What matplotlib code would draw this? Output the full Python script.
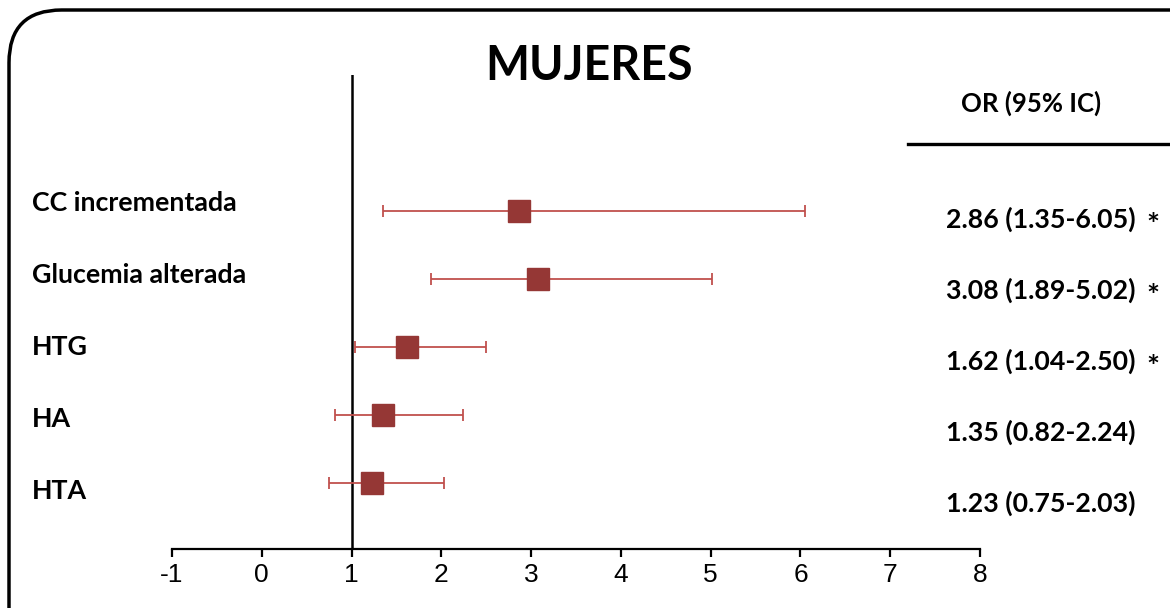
import matplotlib.pyplot as plt
import numpy as np
from matplotlib.patches import FancyBboxPatch
from matplotlib.transforms import blended_transform_factory

# datos
factores = ['CC incrementada', 'Glucemia alterada', 'HTG', 'HA', 'HTA']
odds = [2.86, 3.08, 1.62, 1.35, 1.23]
ic_bajo = [1.35, 1.89, 1.04, 0.82, 0.75]
ic_alto = [6.05, 5.02, 2.50, 2.24, 2.03]
signif = [True, True, True, False, False]
ticks = [-1, 0, 1, 2, 3, 4, 5, 6, 7, 8]

W, H = 1170, 608
fig = plt.figure(figsize=(W / 100, H / 100), dpi=100)
ax = fig.add_axes([172 / W, 59 / H, (980 - 172) / W, (549 - 75) / H])

y = np.arange(len(factores), 0, -1)
odds = np.array(odds)
err = [odds - np.array(ic_bajo), np.array(ic_alto) - odds]

ax.errorbar(odds, y, xerr=err, fmt='none', ecolor='#C0504D', elinewidth=1.3,
            capsize=4.5, capthick=1.3, zorder=2)
ax.plot(odds, y, 's', color='#953735', markersize=16.5, zorder=3)

ax.set_xlim(-1, 8)
ax.set_ylim(0.03, 7)
ax.set_xticks(ticks)
ax.set_xticklabels([str(t) for t in ticks], fontfamily='Liberation Sans', fontsize=19)
ax.set_yticks([])
for s in ['top', 'right', 'left']:
    ax.spines[s].set_visible(False)
ax.spines['bottom'].set_linewidth(1.6)
ax.tick_params(axis='x', direction='out', length=6, width=1.6, pad=4)
ax.axvline(1, color='black', lw=1.8, zorder=1)

bold = dict(fontfamily='Lato', fontweight='bold', color='black')
tr = blended_transform_factory(fig.transFigure, ax.transData)

# etiquetas izquierda
for i, f in enumerate(factores):
    yy = 0.88 + (y[i] - 1) * 1.06
    ax.text(32 / W, yy, f, transform=tr, ha='left', va='center', fontsize=19.3, **bold)

# columna OR
for i in range(len(factores)):
    yy = 0.706 + (y[i] - 1) * 1.044
    txt = f'{odds[i]:.2f} ({ic_bajo[i]:.2f}-{ic_alto[i]:.2f})'
    ax.text(946 / W, yy, txt, transform=tr, ha='left', va='center', fontsize=19.3, **bold)
    if signif[i]:
        ax.text(1153 / W, yy - 0.1, '*', transform=tr, ha='center', va='center',
                fontsize=22, **bold)

fig.text(1031 / W, 1 - 103 / H, 'OR (95% IC)', ha='center', va='center', fontsize=18.5, **bold)
fig.add_artist(plt.Line2D([908 / W, 1], [1 - 144 / H, 1 - 144 / H], color='black', lw=2.4))
fig.text(589 / W, 1 - 66 / H, 'MUJERES', ha='center', va='center', fontsize=33.5, **bold)

# marco redondeado
fig.add_artist(FancyBboxPatch((9 / W, -0.2), 1.2, 1 - 10 / H + 0.2,
                              boxstyle='round,pad=0,rounding_size=0.045',
                              transform=fig.transFigure, fill=False, lw=2.5,
                              edgecolor='black', mutation_aspect=W / H))

fig.savefig('out.png', dpi=100)
